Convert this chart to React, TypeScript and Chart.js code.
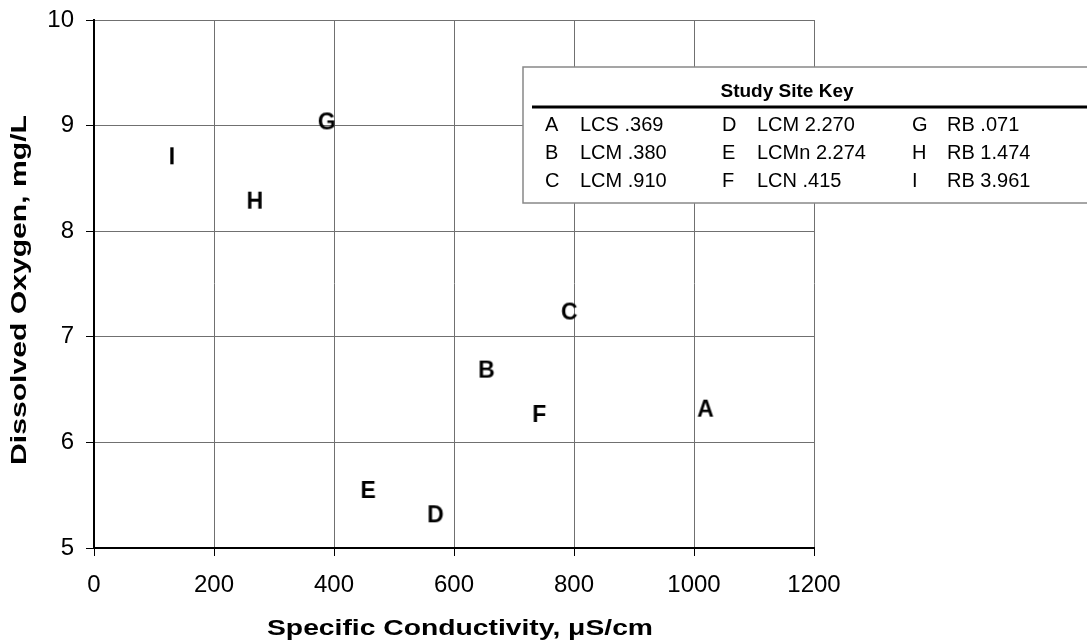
import React, { useEffect, useRef } from "react";
import { Chart, registerables } from "chart.js";

Chart.register(...registerables);

const siteLetters = ["A", "B", "C", "D", "E", "F", "G", "H", "I"];
const siteNames = ["LCS .369", "LCM .380", "LCM .910", "LCM 2.270", "LCMn 2.274", "LCN .415", "RB .071", "RB 1.474", "RB 3.961"];
const conductivity = [1019, 654, 792, 569, 457, 742, 388, 268, 130];
const dissolvedOxygen = [6.31, 6.68, 7.23, 5.31, 5.54, 6.26, 9.03, 8.28, 8.7];
const xTitle = "Specific Conductivity, μS/cm";
const yTitle = "Dissolved Oxygen, mg/L";
const keyTitle = "Study Site Key";

const FONT = "'Liberation Sans', Arial, sans-serif";

function letterImage(ch: string): HTMLCanvasElement {
  const c = document.createElement("canvas");
  c.width = 30;
  c.height = 30;
  const ctx = c.getContext("2d")!;
  ctx.fillStyle = "#000";
  ctx.font = `bold 23px ${FONT}`;
  ctx.textAlign = "center";
  ctx.textBaseline = "middle";
  ctx.fillText(ch, 15, 16);
  return c;
}

const titlePlugin = {
  id: "wideTitles",
  afterDraw(chart: any) {
    const ctx = chart.ctx;
    const area = chart.chartArea;
    ctx.save();
    ctx.fillStyle = "#000";
    ctx.font = `bold 22px ${FONT}`;
    ctx.textAlign = "center";
    ctx.textBaseline = "middle";
    ctx.save();
    ctx.translate((area.left + area.right) / 2 + 6, 629);
    ctx.scale(386 / ctx.measureText(xTitle).width, 1);
    ctx.fillText(xTitle, 0, 0);
    ctx.restore();
    ctx.save();
    ctx.translate(20, (area.top + area.bottom) / 2 + 6);
    ctx.rotate(-Math.PI / 2);
    ctx.scale(350 / ctx.measureText(yTitle).width, 1);
    ctx.fillText(yTitle, 0, 0);
    ctx.restore();
    ctx.restore();
  },
};

const keyPlugin = {
  id: "studySiteKey",
  afterDraw(chart: any) {
    const ctx = chart.ctx;
    ctx.save();
    ctx.fillStyle = "#fff";
    ctx.strokeStyle = "#888";
    ctx.lineWidth = 1.5;
    ctx.fillRect(523, 67, 600, 136);
    ctx.strokeRect(523, 67, 600, 136);
    ctx.fillStyle = "#000";
    ctx.font = `bold 19px ${FONT}`;
    ctx.textAlign = "center";
    ctx.textBaseline = "middle";
    ctx.fillText(keyTitle, 787, 92);
    ctx.strokeStyle = "#000";
    ctx.lineWidth = 3;
    ctx.beginPath();
    ctx.moveTo(532, 107);
    ctx.lineTo(1090, 107);
    ctx.stroke();
    ctx.font = `20px ${FONT}`;
    ctx.textAlign = "left";
    const letterX = [545, 722, 912];
    const nameX = [580, 757, 947];
    const rowY = [125, 153, 181];
    siteLetters.forEach((l, i) => {
      const col = Math.floor(i / 3);
      const row = i % 3;
      ctx.fillText(l, letterX[col], rowY[row]);
      ctx.fillText(siteNames[i], nameX[col], rowY[row]);
    });
    ctx.restore();
  },
};

const zeroPad = (s: any) => {
  s.paddingTop = 0;
  s.paddingBottom = 0;
  s.paddingLeft = 0;
  s.paddingRight = 0;
};

export default function App() {
  const ref = useRef<HTMLCanvasElement>(null);
  useEffect(() => {
    const images = siteLetters.map(letterImage);
    const chart = new Chart(ref.current!, {
      type: "scatter",
      data: {
        datasets: [
          {
            data: conductivity.map((x, i) => ({ x, y: dissolvedOxygen[i] })),
            pointStyle: images as any,
            pointRadius: 12,
          },
        ],
      },
      options: {
        animation: false,
        responsive: false,
        events: [],
        layout: { padding: { top: 20, right: 273, left: 0, bottom: 0 } },
        plugins: { legend: { display: false }, tooltip: { enabled: false } },
        scales: {
          x: {
            type: "linear",
            min: 0,
            max: 1200,
            afterFit: (s: any) => { s.height = 96; zeroPad(s); },
            ticks: {
              stepSize: 200,
              color: "#000",
              padding: 15,
              font: { family: FONT, size: 24 },
              callback: (v: any) => String(v),
            },
            grid: { color: "#707070", lineWidth: 1, tickColor: "#000", tickLength: 8 },
            border: { color: "#000", width: 2 },
            title: { display: false },
          },
          y: {
            type: "linear",
            min: 5,
            max: 10,
            afterFit: (s: any) => { s.width = 94; zeroPad(s); },
            ticks: {
              stepSize: 1,
              color: "#000",
              padding: 12,
              font: { family: FONT, size: 24 },
              callback: (v: any) => String(v),
            },
            grid: { color: "#707070", lineWidth: 1, tickColor: "#000", tickLength: 8 },
            border: { color: "#000", width: 2 },
            title: { display: false },
          },
        },
      },
      plugins: [titlePlugin, keyPlugin],
    });
    return () => chart.destroy();
  }, []);
  return (
    <div style={{ position: "absolute", left: 0, top: 0, width: 1087, height: 644, background: "#fff" }}>
      <canvas ref={ref} width={1087} height={644} style={{ display: "block" }} />
    </div>
  );
}
